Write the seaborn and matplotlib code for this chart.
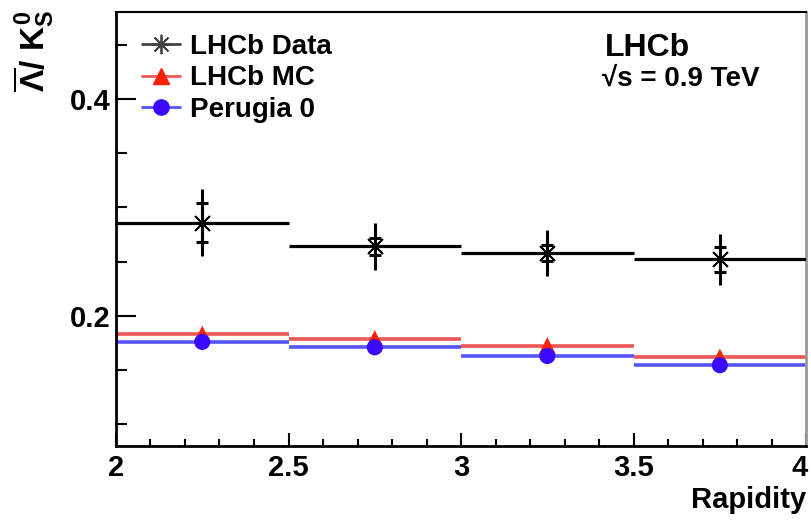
import matplotlib
matplotlib.use('Agg')
from matplotlib import pyplot as plt
from matplotlib.lines import Line2D
from matplotlib.ticker import MultipleLocator, FuncFormatter
import matplotlib.transforms as mtransforms
import seaborn as sns

## Rapidity bins
bin_lo = [2.0, 2.5, 3.0, 3.5]
bin_hi = [2.5, 3.0, 3.5, 4.0]
bin_mid = [2.25, 2.75, 3.25, 3.75]

## LHCb data: ratio, statistical and total errors
data_ratio = [0.286, 0.264, 0.258, 0.252]
data_stat = [0.018, 0.008, 0.007, 0.0115]
data_tot = [0.031, 0.0215, 0.0215, 0.0235]

## Simulations
mc_ratio = [0.183, 0.179, 0.1725, 0.162]
perugia_ratio = [0.176, 0.171, 0.163, 0.1545]

legend_labels = ['LHCb Data', 'LHCb MC', 'Perugia 0']

sns.set_style('ticks')
plt.rcParams['font.family'] = ['Liberation Sans', 'DejaVu Sans']
plt.rcParams['font.weight'] = 'bold'
plt.rcParams['text.color'] = 'black'
plt.rcParams['xtick.color'] = 'black'
plt.rcParams['ytick.color'] = 'black'
plt.rcParams['axes.labelcolor'] = 'black'
plt.rcParams['mathtext.fontset'] = 'custom'
plt.rcParams['mathtext.rm'] = 'Liberation Sans:bold'
plt.rcParams['mathtext.it'] = 'Liberation Sans:bold'
plt.rcParams['mathtext.bf'] = 'Liberation Sans:bold'
plt.rcParams['mathtext.sf'] = 'Liberation Sans:bold'

red_line = '#ef5656'
blue_line = '#5555ff'
red_mark = '#ff2000'
blue_mark = '#3a0aff'

fig = plt.figure(figsize=(8.11, 5.22), dpi=100)
ax = fig.add_axes([0.143, 0.1456, 0.851, 0.831])

## Simulation histograms
ax.hlines(mc_ratio, bin_lo, bin_hi, color=red_line, lw=2.6, zorder=2)
ax.hlines(perugia_ratio, bin_lo, bin_hi, color=blue_line, lw=2.6, zorder=2)
sns.scatterplot(x=bin_mid, y=mc_ratio, marker='^', s=150, color=red_mark,
                edgecolor='none', legend=False, ax=ax, zorder=3)
sns.scatterplot(x=bin_mid, y=perugia_ratio, marker='o', s=135, color=blue_mark,
                edgecolor='none', legend=False, ax=ax, zorder=4)

## Data points with total and stat errors
ax.hlines(data_ratio, bin_lo, bin_hi, color='black', lw=2.3, zorder=5)
ax.errorbar(bin_mid, data_ratio, yerr=data_tot, fmt='none', ecolor='black',
            elinewidth=2.2, zorder=5)
ax.errorbar(bin_mid, data_ratio, yerr=data_stat, fmt='none', ecolor='black',
            elinewidth=2.2, capsize=4, capthick=2.2, zorder=5)
ax.plot(bin_mid, data_ratio, ls='none', marker=(8, 2, 0), ms=15, mew=1.3,
        color='black', zorder=6)

## Axes styling
ax.set_xlim(2, 4)
ax.set_ylim(0.08, 0.48)
ax.xaxis.set_major_locator(MultipleLocator(0.5))
ax.xaxis.set_minor_locator(MultipleLocator(0.1))
ax.yaxis.set_major_locator(MultipleLocator(0.2))
ax.yaxis.set_minor_locator(MultipleLocator(0.05))
ax.xaxis.set_major_formatter(FuncFormatter(lambda v, p: '%g' % v))
ax.yaxis.set_major_formatter(FuncFormatter(lambda v, p: '%g' % round(v, 2)))
ax.tick_params(axis='x', which='major', direction='in', length=9.5, width=1.5,
               pad=6, labelsize=21)
ax.tick_params(axis='x', which='minor', direction='in', length=5, width=1.5)
ax.tick_params(axis='y', which='major', direction='in', length=14.5, width=1.5,
               pad=4, labelsize=21)
ax.tick_params(axis='y', which='minor', direction='in', length=8, width=1.5)
for side in ['left', 'bottom']:
    ax.spines[side].set_color('black')
    ax.spines[side].set_linewidth(2)
ax.spines['top'].set_visible(True)
ax.spines['top'].set_color('black')
ax.spines['top'].set_linewidth(1.5)
ax.spines['right'].set_visible(True)
ax.spines['right'].set_color('#999999')
ax.spines['right'].set_linewidth(2)

## Nudge the last x label ("4") so it stays inside the canvas
fig.canvas.draw()
shift = mtransforms.ScaledTranslation(-5 / 72, 0, fig.dpi_scale_trans)
for tick in ax.xaxis.get_major_ticks():
    tick.label1.set_fontweight('bold')
    if abs(tick.get_loc() - 4) < 1e-9:
        tick.label1.set_transform(tick.label1.get_transform() + shift)
for tick in ax.yaxis.get_major_ticks():
    tick.label1.set_fontweight('bold')

## Legend
handles = [
    Line2D([], [], color='#444444', lw=2, marker=(8, 2, 0), ms=14, mew=1.3),
    Line2D([], [], color=red_line, lw=2, marker='^', ms=11, mfc=red_mark, mec=red_mark),
    Line2D([], [], color=blue_line, lw=2, marker='o', ms=11, mfc=blue_mark, mec=blue_mark),
]
ax.legend(handles, legend_labels, loc='upper left', bbox_to_anchor=(0.037, 0.95),
          frameon=False, borderpad=0, borderaxespad=0, handlelength=1.4,
          handletextpad=0.35, labelspacing=0.2,
          prop={'family': 'Liberation Sans', 'weight': 'bold', 'size': 20})

## Labels
fig.text(0.042, 0.982, r'$\overline{\Lambda}/\ K^{0}_{S}$', rotation=90,
         ha='center', va='top', fontsize=24)
fig.text(0.994, 0.026, 'Rapidity', ha='right', va='baseline', fontsize=21,
         fontweight='bold')
fig.text(0.746, 0.893, 'LHCb', ha='left', va='baseline', fontsize=23,
         fontweight='bold')
fig.text(0.742, 0.836, '\u221as = 0.9 TeV', ha='left', va='baseline',
         fontsize=20, fontweight='bold')

fig.savefig('out.png', dpi=100)
